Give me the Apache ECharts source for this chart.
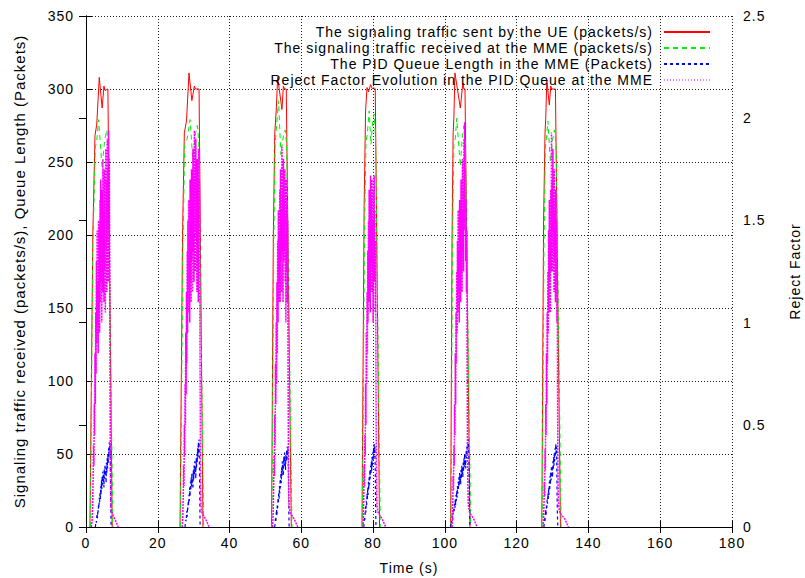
<!DOCTYPE html>
<html><head><meta charset="utf-8">
<script src="https://cdn.jsdelivr.net/npm/echarts@6/dist/echarts.min.js"></script>
<style>html,body{margin:0;padding:0;background:#fff}#c{width:805px;height:578px}#c text{letter-spacing:1px}</style>
</head><body><div id="c"></div>
<script>
// ---------- names & ticks ----------
const seriesNames = [
  'The signaling traffic sent by the UE (packets/s)',
  'The signaling traffic received at the MME (packets/s)',
  'The PID Queue Length in the MME (Packets)',
  'Reject Factor Evolution in the PID Queue at the MME'
];
const xLabel = 'Time (s)';
const yLeftLabel = 'Signaling traffic received (packets/s), Queue Length (Packets)';
const yRightLabel = 'Reject Factor';

// ---------- red: sent by UE (times, values per burst) ----------
const redTimes = [
  [1.1, 1.9, 2.5, 3.0, 3.7, 4.5, 5.0, 5.3, 6.1, 7.3],
  [26.2, 26.9, 27.4, 28.0, 28.7, 29.5, 30.2, 30.5, 31.5, 32.6],
  [51.7, 52.2, 52.6, 53.0, 53.4, 54.6, 55.0, 55.3, 55.8, 57.2],
  [76.9, 77.5, 77.9, 78.3, 78.7, 79.3, 79.8, 80.2, 80.6, 81.8],
  [101.6, 102.0, 102.3, 102.5, 102.8, 104.3, 105.0, 105.3, 105.6, 107.0],
  [127.0, 127.5, 127.9, 128.1, 128.4, 129.1, 129.5, 129.8, 130.8, 132.2]
];
const redValues = [
  [0, 200, 268, 276, 308, 287, 302, 299, 300, 0],
  [0, 200, 270, 278, 311, 292, 302, 300, 300, 0],
  [0, 200, 270, 285, 308, 286, 302, 300, 300, 0],
  [0, 220, 285, 301, 298, 303, 300, 301, 300, 0],
  [0, 200, 270, 280, 311, 287, 304, 300, 300, 0],
  [0, 210, 270, 280, 306, 289, 302, 300, 300, 0]
];

// ---------- green: received at MME ----------
const greenTimes = [
  [1.2, 1.9, 2.6, 3.0, 3.5, 4.5, 5.2, 5.8, 6.1, 7.5],
  [26.3, 27.0, 27.5, 28.2, 29.0, 29.8, 30.4, 31.0, 31.4, 32.8],
  [51.8, 52.3, 52.7, 53.1, 53.65, 54.3, 55.0, 55.5, 55.9, 57.4],
  [77.0, 77.6, 78.0, 78.4, 78.9, 79.4, 79.9, 80.3, 80.7, 82.0],
  [101.7, 102.1, 102.5, 102.9, 103.3, 104.3, 104.9, 105.3, 105.7, 107.2],
  [127.1, 127.6, 128.0, 128.3, 128.7, 129.4, 130.0, 130.5, 131.0, 132.4]
];
const greenValues = [
  [0, 190, 260, 265, 279, 246, 265, 272, 262, 0],
  [0, 190, 262, 266, 279, 250, 268, 275, 265, 0],
  [0, 190, 262, 275, 292, 255, 268, 272, 262, 0],
  [0, 200, 262, 270, 285, 262, 278, 283, 265, 0],
  [0, 190, 262, 266, 280, 247, 268, 275, 262, 0],
  [0, 190, 260, 266, 278, 250, 265, 272, 262, 0]
];

// ---------- blue: PID queue length (sampled every 0.1 s from each start) ----------
const blueStep = 0.1;
const blueStarts = [2.6, 27.6, 52.6, 77.4, 101.6, 127.6];
const blueValues = [
  [0,2,4,3,7,9,6,12,10,16, 13,20,17,24,19,28,22,32,26,35, 29,38,31,36,27,40,33,43,35,39, 30,44,37,47,40,50,44,54,48,58, 52,57,40,15,0],
  [0,3,5,4,8,11,7,14,12,18, 15,22,18,27,21,31,25,34,28,37, 30,33,26,39,32,42,35,45,38,41, 33,47,40,50,44,54,48,58,52,60, 45,20,0],
  [0,3,6,4,9,12,8,15,13,20, 16,24,19,28,23,33,27,37,30,41, 34,45,38,42,35,48,41,51,44,46, 39,50,45,53,47,55,50,54,35,12, 0],
  [0,4,7,5,11,14,10,18,15,23, 19,27,22,31,26,35,29,39,33,42, 36,45,38,48,41,51,45,54,48,57, 52,55,38,14,0],
  [0,2,4,3,6,8,5,10,9,13, 11,16,13,19,15,22,18,25,20,28, 23,31,26,34,28,37,31,35,29,39, 33,42,36,40,34,44,38,47,41,50, 44,46,40,52,47,55,50,58,53,60, 55,45,25,8,0],
  [0,3,6,4,9,12,8,15,13,19, 16,23,19,27,22,31,25,35,29,38, 32,42,36,40,34,45,39,48,42,51, 45,54,48,57,51,55,38,15,4,0]
];

// ---------- magenta: reject factor (sampled every 0.1 s from each start) ----------
const magStep = 0.1;
const magStarts = [1.5, 26.8, 52.0, 77.2, 102.0, 127.4];
const magValues = [
  [0,0,0.03,0.08,0.15,0.25, 0.4,0.3,0.6,0.45,0.85, 0.6,1.05,0.75,1.3,0.9, 1.45,1.0,1.2,0.85,1.5, 1.05,1.47,0.95,1.6,1.1, 1.7,1.2,1.5,1.0,1.65, 1.15,1.8,1.3,1.55,1.1, 1.75,1.25,1.6,1.05,1.85, 1.35,1.7,1.15,1.9,1.4, 1.75,1.2,1.94,1.45,1.8, 1.3,0.7,0.3,0.12,0.08],
  [0,0.03,0.08,0.15,0.3,0.2, 0.5,0.35,0.7,0.5,0.95, 0.65,1.15,0.8,1.35,0.95, 1.5,1.05,1.6,1.1,1.4, 1.0,1.7,1.2,1.55,1.1, 1.75,1.3,1.6,1.15,1.85, 1.35,1.7,1.2,1.94,1.45, 1.75,1.25,1.9,1.4,1.65, 1.15,1.8,1.3,1.6,1.1, 1.85,1.4,1.7,1.2,0.7, 0.3,0.12,0.09,0.08,0.07],
  [0,0.04,0.1,0.2,0.35,0.25, 0.55,0.4,0.8,0.6,1.0, 0.7,1.2,0.85,1.4,1.0, 1.55,1.1,1.45,1.2,1.65, 1.1,1.75,1.3,1.55,1.15, 1.86,1.35,1.65,1.1,1.8, 1.3,1.6,1.35,1.75,1.2, 1.55,1.0,1.7,1.25,1.6, 1.1,1.5,0.8,0.35,0.15, 0.1,0.09,0.08,0.07,0.07],
  [0,0.05,0.15,0.3,0.2,0.45,0.35,0.7,0.5,0.95, 0.7,1.15,0.85,1.35,1.0,1.5,1.1,1.65,1.2,1.45, 1.05,1.72,1.3,1.6,1.15,1.7,1.25,1.5,1.0,1.65, 1.35,1.72,1.2,1.55,1.05,1.4,0.7,0.3,0.15,0.1, 0.09,0.08,0.07,0.07],
  [0,0.05,0.12,0.25,0.18,0.4,0.3,0.6,0.45,0.85, 0.6,1.05,0.8,1.25,0.95,1.4,1.05,1.55,1.15,1.35, 1.0,1.6,1.2,1.45,1.1,1.7,1.25,1.55,1.15,1.8, 1.35,1.65,1.25,1.9,1.45,1.98,1.5,1.75,1.3,1.6, 1.15,1.45,0.8,0.4,0.2,0.12,0.1,0.09,0.08,0.07,0.07],
  [0,0.04,0.1,0.22,0.15,0.38,0.28,0.6,0.45,0.85, 0.6,1.05,0.8,1.25,0.95,1.45,1.05,1.6,1.2,1.4, 1.05,1.65,1.25,1.93,1.45,1.7,1.25,1.85,1.35,1.6, 1.15,1.75,1.3,1.55,1.1,1.65,1.2,1.5,1.0,1.3, 0.6,0.3,0.15,0.1,0.09,0.08,0.08,0.07,0.07,0.07,0.06]
];
// slow decay after each burst: [time, value]
const magTailTimes = [[8.0, 9.0],[33.3, 34.3],[58.0, 59.0],[82.5, 83.5],[108.0, 109.0],[133.4, 134.4]];
const magTailValues = [[0.04, 0],[0.04, 0],[0.04, 0],[0.04, 0],[0.04, 0],[0.04, 0]];

// ---------- build ----------
function fromPairs(timesList, valuesList) {
  const out = [];
  timesList.forEach((ts, i) => {
    ts.forEach((t, j) => out.push([t, valuesList[i][j]]));
    out.push([ts[ts.length - 1] + 0.05, null]);
  });
  return out;
}
function fromSteps(starts, step, valuesList, tailT, tailV) {
  const out = [];
  starts.forEach((s, i) => {
    valuesList[i].forEach((v, j) => out.push([Math.round((s + j * step) * 100) / 100, v]));
    if (tailT) tailT[i].forEach((t, k) => out.push([t, tailV[i][k]]));
    out.push([out[out.length - 1][0] + 0.05, null]);
  });
  return out;
}

const FONT = '"Liberation Sans", Arial, Helvetica, sans-serif';
const dotted = { color: '#222', width: 1, type: [1, 2] };

const chart = echarts.init(document.getElementById('c'), null, { renderer: 'svg' });
chart.setOption({
  animation: false,
  backgroundColor: '#fff',
  textStyle: { fontFamily: FONT },
  grid: { left: 86, right: 73, top: 16, bottom: 51, containLabel: false, outerBoundsMode: 'none' },
  legend: {
    orient: 'vertical',
    align: 'right',
    right: 89,
    top: 20,
    itemWidth: 46,
    itemHeight: 14,
    itemGap: 2,
    itemStyle: { opacity: 0 },
    data: [
      { name: seriesNames[0] },
      { name: seriesNames[1] },
      { name: seriesNames[2] },
      { name: seriesNames[3], lineStyle: { width: 1, type: [1, 2] } }
    ],
    textStyle: { fontFamily: FONT, fontSize: 14, color: '#000', padding: [0, 6, 0, 0] }
  },
  xAxis: [
    {
      type: 'value', min: 0, max: 180, interval: 20, position: 'bottom',
      name: xLabel, nameLocation: 'middle', nameGap: 34,
      nameTextStyle: { fontFamily: FONT, fontSize: 14, color: '#000' },
      axisLine: { show: true, lineStyle: { color: '#000', width: 1 } },
      axisTick: { show: true, inside: true, length: 6, lineStyle: { color: '#000' } },
      axisLabel: { fontFamily: FONT, fontSize: 14, color: '#000', margin: 9 },
      splitLine: { show: true, lineStyle: dotted }
    },
    {
      type: 'value', min: 0, max: 180, interval: 20, position: 'top',
      axisLine: { show: true, lineStyle: { color: '#000', width: 1 } },
      axisTick: { show: true, inside: true, length: 6, lineStyle: { color: '#000' } },
      axisLabel: { show: false },
      splitLine: { show: false }
    }
  ],
  yAxis: [
    {
      type: 'value', min: 0, max: 350, interval: 50, position: 'left',
      name: yLeftLabel, nameLocation: 'middle', nameGap: 59,
      nameTextStyle: { fontFamily: FONT, fontSize: 15, color: '#000' },
      axisLine: { show: true, lineStyle: { color: '#000', width: 1 } },
      axisTick: { show: true, inside: true, length: 6, lineStyle: { color: '#000' } },
      axisLabel: { fontFamily: FONT, fontSize: 14, color: '#000', margin: 12 },
      splitLine: { show: true, lineStyle: dotted }
    },
    {
      type: 'value', min: 0, max: 2.5, interval: 0.5, position: 'right',
      name: yRightLabel, nameLocation: 'middle', nameGap: 56,
      nameTextStyle: { fontFamily: FONT, fontSize: 14, color: '#000' },
      axisLine: { show: true, lineStyle: { color: '#000', width: 1 } },
      axisTick: { show: true, inside: true, length: 7, lineStyle: { color: '#000' } },
      axisLabel: { fontFamily: FONT, fontSize: 14, color: '#000', margin: 11 },
      splitLine: { show: false }
    }
  ],
  series: [
    {
      name: seriesNames[0], type: 'line', xAxisIndex: 0, yAxisIndex: 0,
      symbol: 'none', connectNulls: false,
      lineStyle: { color: '#ff0000', width: 1 }, itemStyle: { color: '#ff0000' },
      data: fromPairs(redTimes, redValues)
    },
    {
      name: seriesNames[1], type: 'line', xAxisIndex: 0, yAxisIndex: 0,
      symbol: 'none', connectNulls: false,
      lineStyle: { color: '#00ee00', width: 1, type: [5, 4] }, itemStyle: { color: '#00ee00' },
      data: fromPairs(greenTimes, greenValues)
    },
    {
      name: seriesNames[2], type: 'line', xAxisIndex: 0, yAxisIndex: 0,
      symbol: 'none', connectNulls: false,
      lineStyle: { color: '#0000ff', width: 1.2, type: [3, 3] }, itemStyle: { color: '#0000ff' },
      data: fromSteps(blueStarts, blueStep, blueValues)
    },
    {
      name: seriesNames[3], type: 'line', xAxisIndex: 0, yAxisIndex: 1,
      symbol: 'none', connectNulls: false,
      lineStyle: { color: '#ff00ff', width: 1.5, type: [2, 1] }, itemStyle: { color: '#ff00ff' },
      data: fromSteps(magStarts, magStep, magValues, magTailTimes, magTailValues)
    }
  ]
});
</script>
</body></html>
